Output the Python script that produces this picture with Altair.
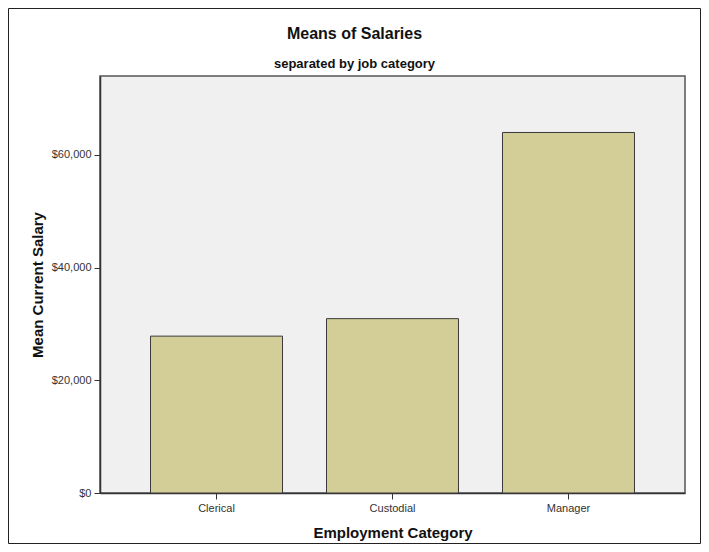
import altair as alt
import pandas as pd

categories = ["Clerical", "Custodial", "Manager"]
mean_salary = [27838.54, 30938.89, 63977.80]
y_ticks = [0, 20000, 40000, 60000]

df = pd.DataFrame({"category": categories, "salary": mean_salary})

W, H = 585, 417
PL, PT, PR, PB = 92, 68, 16, 51

bars = alt.Chart(df).mark_bar(
    fill="#d3ce97", stroke="#3a3a3a", strokeWidth=1
).encode(
    x=alt.X("category:N", sort=categories,
            scale=alt.Scale(paddingInner=0.25, paddingOuter=0.287),
            axis=alt.Axis(title="Employment Category", labelAngle=0,
                          labelFontSize=11, labelColor="#333333",
                          labelFont="Liberation Sans", tickSize=6,
                          tickColor="#333333", domainColor="#333333",
                          domainWidth=1.5, labelPadding=3,
                          titleFont="Liberation Sans", titleFontSize=15,
                          titleFontWeight="bold", titleColor="#111111",
                          titlePadding=12)),
    y=alt.Y("salary:Q", scale=alt.Scale(domain=[0, 74000], nice=False),
            axis=alt.Axis(title="Mean Current Salary", values=y_ticks,
                          format="$,.0f", grid=False,
                          labelFontSize=11, labelColor="#333333",
                          labelFont="Liberation Sans", tickSize=6,
                          tickColor="#333333", domainColor="#333333",
                          domainWidth=1.5, labelPadding=3,
                          titleFont="Liberation Sans", titleFontSize=15,
                          titleFontWeight="bold", titleColor="#111111",
                          titlePadding=6)),
)

frame = alt.Chart(pd.DataFrame({"a": [0]})).mark_rect(
    fill=None, stroke="#222222", strokeWidth=1
).encode(
    x=alt.value(-PL + 0.5), x2=alt.value(W + PR - 0.5),
    y=alt.value(-PT + 0.5), y2=alt.value(H + PB - 0.5),
)

chart = alt.layer(bars, frame).properties(
    width=W, height=H,
    padding={"left": PL, "top": PT, "right": PR, "bottom": PB},
    autosize=alt.AutoSizeParams(type="none"),
    title=alt.TitleParams(
        text="Means of Salaries", subtitle="separated by job category",
        font="Liberation Sans", fontSize=16, fontWeight="bold", color="#111111",
        subtitleFont="Liberation Sans", subtitleFontSize=13,
        subtitleFontWeight="bold", subtitleColor="#111111",
        subtitlePadding=16, anchor="middle", frame="group", offset=-63, dx=-38,
    ),
).configure(
    background="white",
    view=alt.ViewConfig(fill="#f0f0f0", stroke="#555555", strokeWidth=1.5),
)

chart.save("out.html", embed_options={"renderer": "svg", "actions": False})
